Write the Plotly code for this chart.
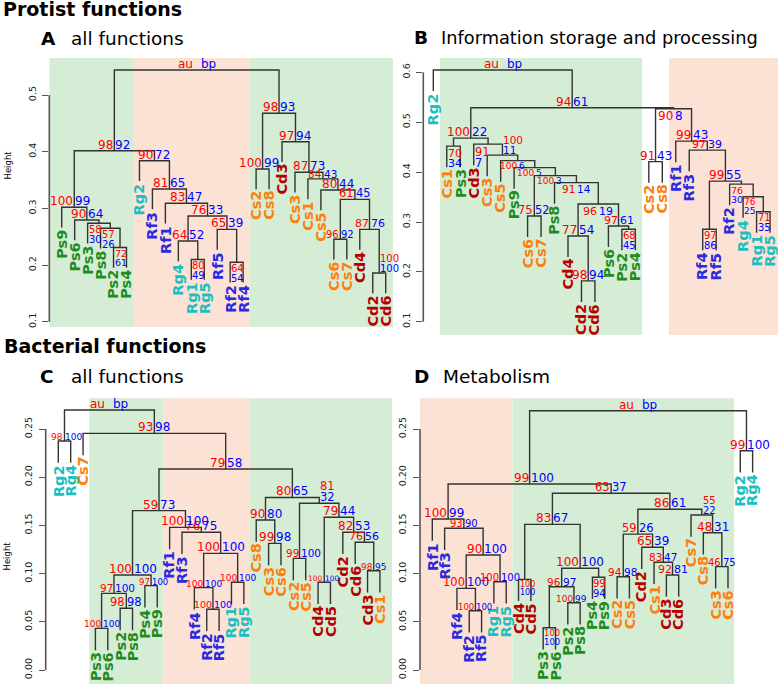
import plotly.graph_objects as go

W, H = 778, 684
FONT = "DejaVu Sans"

GROUP_COLORS = {"Ps": "#1e8c1e", "Rg": "#1cbfbf", "Rf": "#2a2ae0", "Cs": "#ff7f0e", "Cd": "#b80000"}
AU_COLOR, BP_COLOR = "#ff0000", "#0000ff"
BG_COLORS = {"g": "#d6edd5", "s": "#fbe2d5"}

# ---------------- Panel A: Protist, all functions ----------------
A_merges = [("Cd2", "Cd6"), ("Rf2", "Rf4"), ("Rg1", "Rg5"), ("Ps2", "Ps4"), ("Rg4", 2),
            ("Cs6", "Cs7"), ("Rf5", 1), ("Cd4", 0), ("Ps8", 3), ("Ps3", 8),
            ("Ps6", 9), (4, 6), ("Ps9", 10), ("Rf1", 11), (5, 7),
            ("Cs5", 14), ("Rf3", 13), ("Cs1", 15), ("Cs3", 17), ("Cs2", "Cs8"),
            ("Rg2", 16), (12, 20), ("Cd3", 18), (19, 22), (21, 23)]
A_heights = [0.186, 0.205, 0.210, 0.231, 0.2425, 0.2455, 0.263, 0.263, 0.265, 0.2737,
             0.2795, 0.2866, 0.302, 0.309, 0.316, 0.3325, 0.3342, 0.352, 0.3637, 0.3695,
             0.3841, 0.4018, 0.4176, 0.4677, 0.5441]
A_au = [100, 64, 80, 72, 64, 96, 65, 87, 57, 58, 90, 76, 100, 83, 61, 80, 81, 84, 87, 100, 90, 98, 97, 98, "au"]
A_bp = [100, 54, 49, 61, 52, 92, 39, 76, 26, 30, 64, 33, 99, 47, 45, 44, 65, 43, 73, 99, 72, 92, 94, 93, "bp"]
A_mode = ["S", "s", "s", "s", "a", "a", "a", "a", "s", "s", "a", "a", "a", "a", "a",
          "a", "a", "a", "a", "a", "a", "a", "a", "a", "T"]
A_size = [10, 10, 10, 9.5, 12, 10, 12, 11, 10, 10, 12, 12, 12, 12, 11.5, 12, 12, 10.5, 12, 12, 12, 12, 12, 12, 12]
A_bg = [(None, 6.5, "g"), (6.5, 15.5, "s"), (15.5, None, "g")]
A_ticks = [0.1, 0.2, 0.3, 0.4, 0.5]

# ---------------- Panel B: Protist, information storage ----------------
B_merges = [("Cd2", "Cd6"), ("Cd4", 0), ("Ps2", "Ps4"), ("Rf4", "Rf5"), ("Ps6", 2),
            ("Cs6", "Cs7"), ("Rg1", "Rg5"), (1, 4), ("Rg4", 6), ("Rf2", 8),
            ("Ps8", 7), (3, 9), (5, 10), ("Ps9", 12), ("Cs2", "Cs8"),
            ("Cs5", 13), ("Cs3", 15), ("Rf3", 11), ("Cs1", "Ps3"), ("Cd3", 16),
            ("Rf1", 17), (18, 19), (14, 20), (21, 22), ("Rg2", 23)]
B_heights = [0.182, 0.272, 0.2854, 0.2854, 0.292, 0.312, 0.3206, 0.336, 0.3507, 0.376,
             0.379, 0.382, 0.393, 0.409, 0.421, 0.423, 0.434, 0.444, 0.452, 0.456,
             0.462, 0.468, 0.527, 0.529, 0.6046]
B_au = [98, 77, 68, 97, 97, 75, 71, 96, 76, 76, 91, 99, 100, 100, 91, 100, 100, 97, 70, 91, 99, 100, 90, 94, "au"]
B_bp = [94, 54, 45, 86, 61, 52, 35, 19, 25, 30, 14, 55, 3, 5, 43, 6, 11, 39, 34, 7, 43, 22, 8, 61, "bp"]
B_mode = ["a", "a", "s", "s", "a", "a", "s", "b", "s", "s", "b", "a", "b", "b", "a",
          "b", "S", "a", "s", "s", "a", "a", "b", "a", "T"]
B_size = [12, 12, 10, 10, 11, 11.5, 10, 11, 9, 9.5, 10.5, 12, 9, 9, 12, 9, 10.5, 11, 11, 11.5, 12, 12, 12, 12, 12]
B_bg = [(1.5, 16.5, "g"), (18.5, None, "s")]
B_ticks = [0.1, 0.2, 0.3, 0.4, 0.5, 0.6]

# ---------------- Panel C: Bacterial, all functions ----------------
C_merges = [("Ps3", "Ps6"), ("Rf2", "Rf5"), ("Ps2", "Ps8"), ("Rf4", 1), ("Ps4", "Ps9"),
            ("Rg1", "Rg5"), ("Cd4", "Cd5"), (0, 2), (7, 4), ("Cd3", "Cs1"),
            ("Cs2", "Cs5"), (3, 5), ("Cs3", "Cs6"), ("Cd6", 9), ("Rf3", 11),
            ("Cd2", 13), ("Rf1", 14), ("Cs8", 12), (6, 15), (8, 16),
            (10, 18), (17, 20), (19, 21), ("Rg2", "Rg4"), ("Cs7", 22), (23, 24)]
C_heights = [0.0432, 0.063, 0.064, 0.0854, 0.0875, 0.091, 0.091, 0.0795, 0.0985, 0.103,
             0.1158, 0.121, 0.1314, 0.1325, 0.1429, 0.1429, 0.148, 0.1556, 0.1584, 0.1653,
             0.1729, 0.179, 0.2085, 0.2376, 0.2455, 0.2697]
C_au = [100, 100, 98, 100, 97, 100, 100, 97, 100, 98, 99, 100, 99, 76, 76, 82, 100, 90, 79, 59, 81, 80, 79, 98, 93, "au"]
C_bp = [100, 100, 98, 100, 100, 100, 100, 100, 100, 95, 100, 100, 98, 56, 75, 53, 100, 80, 44, 73, 32, 65, 58, 100, 98, "bp"]
C_mode = ["a"] * 20 + ["S", "a", "a", "a", "a", "T"]
C_size = [9, 9.5, 11.5, 9, 8.5, 9, 7.5, 10.5, 12, 9, 10.5, 12, 12, 11, 12, 12, 12, 12, 12, 12, 11.5, 12, 12, 9, 12, 12]
C_bg = [(3.5, 9.5, "g"), (9.5, 16.5, "s"), (16.5, None, "g")]
C_ticks = [0.0, 0.05, 0.10, 0.15, 0.20, 0.25]

# ---------------- Panel D: Bacterial, metabolism ----------------
D_merges = [("Ps3", "Ps6"), ("Rf2", "Rf5"), ("Ps2", "Ps8"), ("Rf4", 1), (0, 2),
            ("Rg1", "Rg5"), ("Cd4", "Cd5"), ("Ps4", "Ps9"), ("Cs2", "Cs5"), ("Cd3", "Cd6"),
            (4, 7), ("Cs3", "Cs6"), ("Cs1", 9), (3, 5), ("Cd2", 12),
            (8, 14), ("Cs8", 11), ("Rf3", 13), (6, 10), ("Rf1", 17),
            ("Cs7", 16), (15, 20), (18, 21), (19, 22), ("Rg2", "Rg4"), (23, 24)]
D_heights = [0.0439, 0.0615, 0.0698, 0.0847, 0.0864, 0.0916, 0.094, 0.0962, 0.0968, 0.0985,
             0.1055, 0.1072, 0.1117, 0.1193, 0.1273, 0.141, 0.1424, 0.147, 0.1511, 0.1566,
             0.1608, 0.1667, 0.1833, 0.193, 0.2275, 0.269]
D_au = [100, 100, 100, 100, 96, 100, 100, 99, 94, 92, 100, 46, 83, 90, 65, 59, 48, 93, 83, 100, 55, 86, 63, 99, 99, "au"]
D_bp = [100, 100, 99, 100, 97, 100, 100, 94, 98, 81, 100, 75, 47, 100, 39, 26, 31, 90, 67, 99, 22, 61, 37, 100, 100, "bp"]
D_mode = ["s", "a", "a", "a", "a", "a", "s", "s", "a", "a", "a", "a", "a", "a", "a",
          "a", "a", "a", "a", "a", "S", "a", "a", "a", "a", "T"]
D_size = [8.5, 8.5, 9, 11.5, 10.5, 10, 8, 10, 10.5, 11, 12, 10, 10.5, 12, 12, 11.5, 12, 10, 12, 12, 10, 12, 11.5, 12, 12, 12]
D_bg = [(None, 7.5, "s"), (7.5, 25.5, "g")]
D_ticks = [0.0, 0.05, 0.10, 0.15, 0.20, 0.25]

PANELS = [
    dict(merges=A_merges, heights=A_heights, au=A_au, bp=A_bp, mode=A_mode, size=A_size,
         bg=A_bg, ticks=A_ticks, fmt="{:.1f}",
         dom_x=(49.3, 393), dom_y=(58, 327), leaf1=61.7, dx=12.96, yref=(95, 0.5, 567)),
    dict(merges=B_merges, heights=B_heights, au=B_au, bp=B_bp, mode=B_mode, size=B_size,
         bg=B_bg, ticks=B_ticks, fmt="{:.1f}",
         dom_x=(423.3, 778), dom_y=(58, 335), leaf1=433.3, dx=13.47, yref=(72.3, 0.6, 499)),
    dict(merges=C_merges, heights=C_heights, au=C_au, bp=C_bp, mode=C_mode, size=C_size,
         bg=C_bg, ticks=C_ticks, fmt="{:.2f}",
         dom_x=(45.7, 392), dom_y=(398.3, 684), leaf1=58.3, dx=12.37, yref=(670, 0.0, 964)),
    dict(merges=D_merges, heights=D_heights, au=D_au, bp=D_bp, mode=D_mode, size=D_size,
         bg=D_bg, ticks=D_ticks, fmt="{:.2f}",
         dom_x=(420, 778), dom_y=(398.3, 684), leaf1=432.3, dx=12.32, yref=(670, 0.0, 964)),
]

fig = go.Figure()
annotations, shapes = [], []
layout_axes = {}

for k, P in enumerate(PANELS):
    n = k + 1
    xa = "x" if n == 1 else f"x{n}"
    ya = "y" if n == 1 else f"y{n}"
    merges, heights = P["merges"], P["heights"]

    order = []

    def visit(item):
        if isinstance(item, str):
            order.append(item)
        else:
            visit(merges[item][0])
            visit(merges[item][1])

    visit(len(merges) - 1)
    leaf_x = {name: i + 1 for i, name in enumerate(order)}
    node_x = []

    def cx(item):
        return leaf_x[item] if isinstance(item, str) else node_x[item]

    for l, r in merges:
        node_x.append((cx(l) + cx(r)) / 2)
    hang = 0.1 * (max(heights) - min(heights))

    xs, ys, leaf_end = [], [], {}
    for i, (l, r) in enumerate(merges):
        h = heights[i]
        yl = h - hang if isinstance(l, str) else heights[l]
        yr = h - hang if isinstance(r, str) else heights[r]
        xs += [cx(l), cx(l), cx(r), cx(r), None]
        ys += [yl, h, h, yr, None]
        for item in (l, r):
            if isinstance(item, str):
                leaf_end[item] = h - hang
    fig.add_trace(go.Scatter(x=xs, y=ys, mode="lines", line=dict(color="#333333", width=1.4),
                             xaxis=xa, yaxis=ya, hoverinfo="skip", showlegend=False))

    # axes geometry
    x0p, x1p = P["dom_x"]
    r0 = 1 + (x0p - P["leaf1"]) / P["dx"]
    r1 = 1 + (x1p - P["leaf1"]) / P["dx"]
    ytp, ybp = P["dom_y"]
    py0, v0, ppu = P["yref"]
    yr0 = v0 + (py0 - ybp) / ppu
    yr1 = v0 + (py0 - ytp) / ppu
    layout_axes["xaxis" if n == 1 else f"xaxis{n}"] = dict(
        domain=[x0p / W, x1p / W], range=[r0, r1], visible=False, anchor=ya, fixedrange=True)
    layout_axes["yaxis" if n == 1 else f"yaxis{n}"] = dict(
        domain=[1 - ybp / H, 1 - ytp / H], range=[yr0, yr1], anchor=xa,
        tickvals=P["ticks"], ticktext=[P["fmt"].format(t) for t in P["ticks"]],
        ticks="outside", ticklen=6, tickwidth=1.4, tickcolor="#555555",
        showgrid=False, zeroline=False, showline=False, tickangle=-90,
        tickfont=dict(family=FONT, size=9.5, color="#222222"), ticklabelstandoff=3,
        fixedrange=True)

    # backgrounds
    for lo, hi, c in P["bg"]:
        shapes.append(dict(type="rect", xref=xa, yref=f"{ya} domain",
                           x0=r0 if lo is None else lo, x1=r1 if hi is None else hi,
                           y0=0, y1=1, fillcolor=BG_COLORS[c], line=dict(width=0), layer="below"))
    # axis line between extreme ticks
    shapes.append(dict(type="line", xref=f"{xa} domain", yref=ya, x0=0, x1=0,
                       y0=min(P["ticks"]), y1=max(P["ticks"]),
                       line=dict(color="#555555", width=1.6)))

    # leaf labels
    for name in order:
        annotations.append(dict(x=leaf_x[name], y=leaf_end[name], xref=xa, yref=ya,
                                text=f"<b>{name}</b>", textangle=-90, showarrow=False,
                                xanchor="center", yanchor="top", yshift=-1, borderpad=0,
                                font=dict(family=FONT, size=14.5, color=GROUP_COLORS[name[:2]])))

    # au / bp values
    for i, (l, r) in enumerate(merges):
        h = heights[i]
        m = P["mode"][i]
        sz = P["size"][i]
        au, bp = str(P["au"][i]), str(P["bp"][i])
        base = dict(xref=xa, yref=ya, y=h, showarrow=False, borderpad=0)
        fa = dict(family=FONT, size=sz, color=AU_COLOR)
        fb = dict(family=FONT, size=sz, color=BP_COLOR)
        pitch = sz * 0.98
        if m in ("a", "b", "T"):
            ya_anchor = "bottom" if m != "b" else "top"
            ysh = -2 if m != "b" else 0.5
            gap = 3 if m == "T" else 0
            annotations.append(dict(base, x=node_x[i], text=au, font=fa, xanchor="right",
                                    yanchor=ya_anchor, yshift=ysh, xshift=-gap))
            annotations.append(dict(base, x=node_x[i], text=bp, font=fb, xanchor="left",
                                    yanchor=ya_anchor, yshift=ysh, xshift=gap))
        elif m == "s":
            annotations.append(dict(base, x=cx(l), text=au, font=fa, xanchor="left",
                                    yanchor="top", yshift=0.5))
            annotations.append(dict(base, x=cx(l), text=bp, font=fb, xanchor="left",
                                    yanchor="top", yshift=0.5 - pitch))
        elif m == "S":
            annotations.append(dict(base, x=node_x[i], text=bp, font=fb, xanchor="left",
                                    yanchor="bottom", yshift=-2))
            annotations.append(dict(base, x=node_x[i], text=au, font=fa, xanchor="left",
                                    yanchor="bottom", yshift=-2 + pitch))

# ---------------- titles ----------------
def paper_text(text, xp, yp, size, bold=False, angle=0, xanchor="left"):
    annotations.append(dict(xref="paper", yref="paper", x=xp / W, y=1 - yp / H,
                            text=f"<b>{text}</b>" if bold else text, showarrow=False,
                            xanchor=xanchor, yanchor="middle", textangle=angle, borderpad=0,
                            font=dict(family=FONT, size=size, color="#000000")))

paper_text("Protist functions", 2, 9.5, 19, bold=True)
paper_text("A", 40, 38.3, 18.5, bold=True)
paper_text("all functions", 70, 38.3, 18.5)
paper_text("B", 413.3, 37.3, 18.5, bold=True)
paper_text("Information storage and processing", 440, 37.3, 17.8)
paper_text("Bacterial functions", 3, 345.7, 19, bold=True)
paper_text("C", 38.5, 376.7, 18.5, bold=True)
paper_text("all functions", 70, 376.7, 18.5)
paper_text("D", 412.7, 376.3, 18.5, bold=True)
paper_text("Metabolism", 441.7, 376.3, 18.5)
paper_text("Height", 7.5, 165, 8.5, angle=-90, xanchor="center")
paper_text("Height", 6, 556.5, 8.5, angle=-90, xanchor="center")

fig.update_layout(width=W, height=H, margin=dict(l=0, r=0, t=0, b=0),
                  paper_bgcolor="white", plot_bgcolor="rgba(0,0,0,0)",
                  showlegend=False, annotations=annotations, shapes=shapes,
                  font=dict(family=FONT), **layout_axes)
fig.write_html("out.html", config={"displayModeBar": False},
               post_script="document.body.style.margin='0px';document.body.style.padding='0px';")
